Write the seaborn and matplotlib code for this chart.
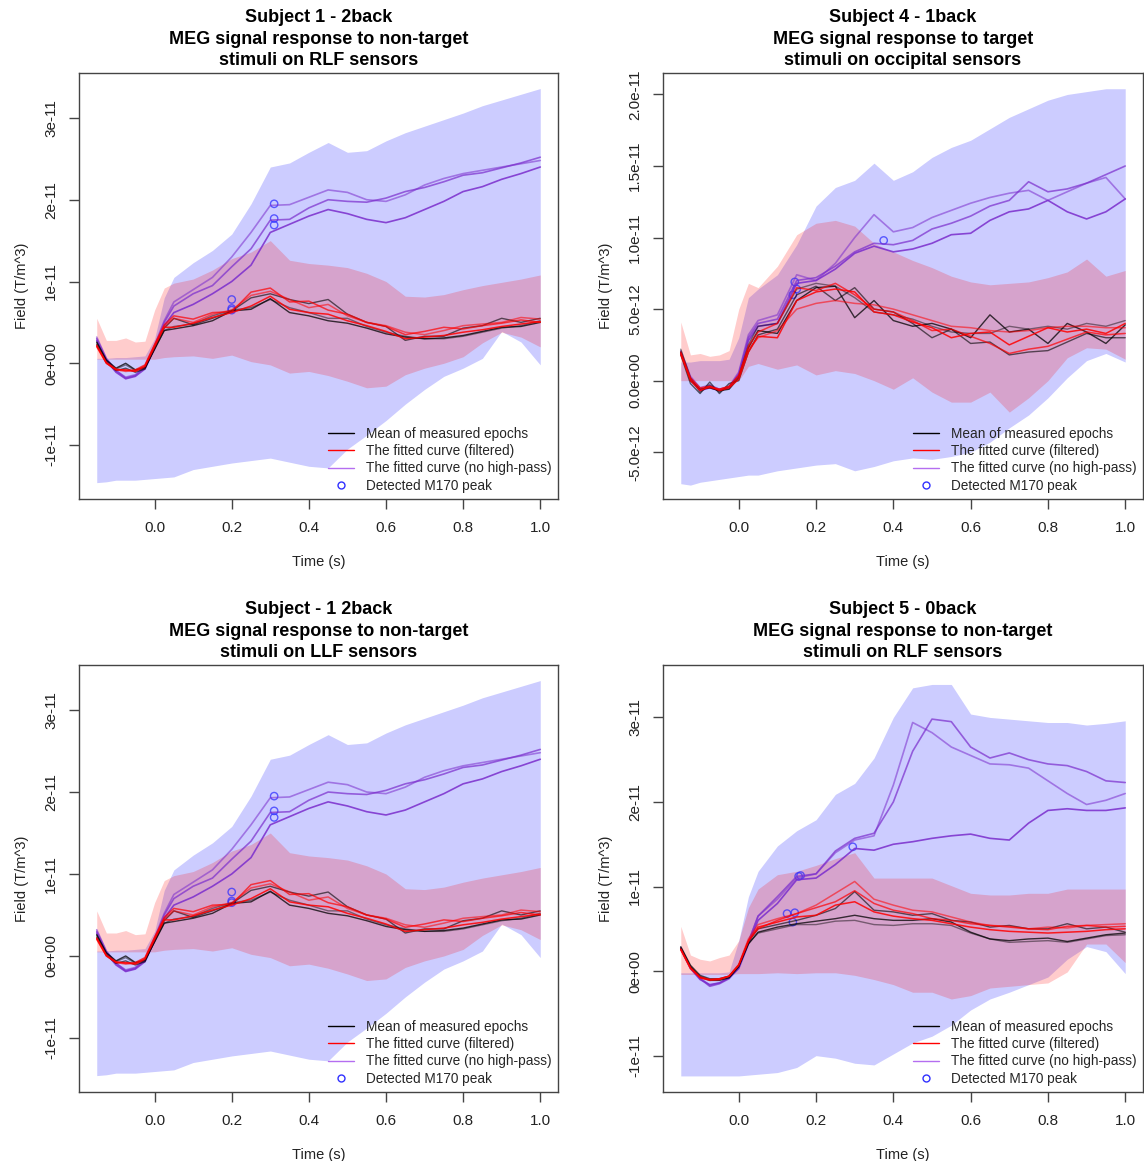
import matplotlib
matplotlib.use("Agg")
import matplotlib.pyplot as plt
from matplotlib.lines import Line2D
import numpy as np
import pandas as pd
import seaborn as sns

sns.set_theme(style="white")
plt.rcParams['font.family'] = ['Liberation Sans', 'DejaVu Sans']

# All field values below are in units of 1e-12 T/m^3
SCALE = 1e-12

# Time axis (s)
T = [-0.15, -0.125, -0.1, -0.075, -0.05, -0.025, 0.0, 0.025, 0.05,
     0.1, 0.15, 0.2, 0.25, 0.3, 0.35, 0.4, 0.45, 0.5, 0.55, 0.6,
     0.65, 0.7, 0.75, 0.8, 0.85, 0.9, 0.95, 1.0]

# ---- Subject 1 - 2back (RLF / LLF sensors) ----
s1_blue_hi = [0.6, 0.6, 0.7, 0.7, 0.8, 0.9, 3.0, 8.0, 10.5,
              12.3, 13.8, 15.8, 19.5, 24.0, 24.5, 25.8, 27.0, 25.8, 26.0, 27.2,
              28.2, 29.0, 29.8, 30.6, 31.5, 32.2, 32.9, 33.6]
s1_blue_lo = [-14.6, -14.5, -14.3, -14.3, -14.3, -14.2, -14.1, -14.0, -13.9,
              -13.0, -12.6, -12.2, -11.9, -11.6, -12.1, -12.6, -12.8, -10.5, -8.8, -7.0,
              -5.0, -3.2, -1.6, -0.6, 0.6, 3.9, 2.6, -0.2]
s1_red_hi = [5.5, 2.8, 2.8, 3.1, 2.6, 2.7, 6.5, 9.2, 9.8,
             10.3, 11.4, 12.8, 13.6, 15.0, 12.6, 12.2, 12.0, 11.7, 11.0, 10.0,
             8.2, 8.1, 8.4, 9.0, 9.5, 9.9, 10.3, 10.8]
s1_red_lo = [0.5, 0.5, 0.5, 0.5, 0.5, 0.5, 0.5, 0.7, 0.8,
             0.9, 0.6, 1.0, 0.2, -0.2, -1.2, -1.0, -1.5, -2.2, -3.0, -2.8,
             -1.4, -0.6, 0.0, 0.8, 2.5, 3.8, 3.2, 2.0]
s1_purple_a = [3.2, 0.6, -0.9, -1.7, -1.4, -0.4, 2.2, 5.2, 7.5,
               9.0, 10.5, 13.0, 16.0, 19.3, 19.4, 20.3, 21.2, 20.9, 20.0, 19.8,
               20.6, 21.8, 22.6, 23.2, 23.6, 24.0, 24.4, 24.8]
s1_purple_b = [3.0, 0.5, -0.9, -1.8, -1.5, -0.5, 2.0, 5.0, 7.0,
               8.5, 9.5, 11.8, 14.0, 17.5, 17.6, 19.0, 20.0, 19.8, 19.7, 20.2,
               21.0, 21.5, 22.2, 23.0, 23.3, 23.9, 24.5, 25.2]
s1_purple_c = [2.8, 0.3, -1.1, -1.9, -1.6, -0.7, 1.8, 4.6, 6.2,
               7.2, 8.5, 10.0, 12.0, 16.0, 17.0, 18.0, 18.8, 18.3, 17.6, 17.2,
               17.8, 18.8, 19.8, 21.0, 21.6, 22.5, 23.2, 24.0]
s1_mean_a = [2.5, 0.3, -0.7, -0.2, -0.9, -0.6, 1.8, 4.0, 4.5,
             4.8, 5.8, 6.5, 6.8, 7.8, 6.8, 6.2, 5.5, 5.5, 4.5, 3.8,
             3.3, 3.0, 3.0, 3.3, 3.8, 4.3, 4.6, 5.2]
s1_mean_b = [2.3, 0.1, -0.9, -0.6, -1.1, -0.7, 1.9, 4.3, 5.5,
             4.7, 5.5, 6.4, 8.0, 8.5, 7.8, 7.3, 7.8, 6.0, 5.0, 4.5,
             2.8, 3.3, 3.3, 4.3, 4.6, 5.5, 5.0, 5.5]
s1_mean_c = [2.6, 0.4, -0.6, 0.0, -0.8, -0.5, 1.7, 4.0, 4.2,
             4.6, 5.2, 6.4, 6.6, 7.9, 6.2, 5.8, 5.2, 4.9, 4.3, 3.6,
             3.2, 3.0, 3.1, 3.4, 3.9, 4.4, 4.5, 5.0]
s1_fit_a = [2.0, 0.0, -0.8, -1.0, -0.9, -0.3, 2.2, 4.5, 5.5,
            5.0, 6.0, 6.5, 8.3, 8.8, 7.8, 6.8, 7.2, 5.8, 5.0, 4.6,
            3.8, 3.5, 4.0, 4.6, 4.8, 5.0, 5.6, 5.4]
s1_fit_b = [2.2, 0.1, -0.7, -0.9, -0.8, -0.2, 2.3, 4.7, 5.8,
            5.4, 6.2, 6.3, 8.7, 9.2, 7.5, 7.6, 6.5, 6.0, 5.0, 4.5,
            3.5, 3.9, 4.4, 4.2, 4.6, 4.9, 5.3, 5.0]
s1_fit_c = [2.1, 0.0, -0.8, -0.8, -1.0, -0.4, 2.0, 4.4, 4.4,
            4.9, 5.6, 6.2, 7.0, 8.2, 6.6, 6.2, 6.0, 5.2, 4.6, 3.9,
            3.0, 3.2, 3.4, 3.8, 4.1, 4.5, 4.8, 5.1]
s1_peak_t = [0.31, 0.31, 0.31, 0.2, 0.2, 0.2]
s1_peak_v = [19.5, 17.7, 16.9, 7.8, 6.7, 6.5]

# ---- Subject 4 - 1back (occipital sensors) ----
s4_blue_hi = [1.3, 1.3, 1.4, 1.4, 1.4, 1.5, 3.0, 5.8, 6.4,
              7.4, 9.5, 12.2, 13.5, 14.0, 15.2, 14.0, 14.6, 15.6, 16.3, 16.8,
              17.6, 18.4, 19.0, 19.6, 20.0, 20.2, 20.4, 20.4]
s4_blue_lo = [-7.2, -7.3, -7.1, -7.0, -6.9, -6.8, -6.7, -6.6, -6.6,
              -6.3, -6.1, -5.9, -5.8, -6.3, -6.0, -5.6, -5.4, -5.5, -5.3, -5.0,
              -4.3, -3.3, -2.4, -1.2, 0.2, 1.4, 1.9, 1.3]
s4_red_hi = [4.1, 1.8, 1.9, 1.7, 1.8, 2.1, 5.0, 6.8, 6.5,
             8.0, 10.2, 11.0, 11.2, 10.8, 9.6, 9.0, 8.4, 7.9, 7.3, 6.9,
             6.7, 6.8, 6.9, 7.2, 7.6, 8.5, 7.3, 7.7]
s4_red_lo = [0.0, 0.0, 0.0, 0.0, 0.0, 0.0, 0.0, 1.0, 1.2,
             0.8, 1.1, 0.4, 0.7, 0.5, 0.0, -0.6, 0.2, -0.8, -1.5, -1.5,
             -0.8, -2.2, -1.2, 0.0, 1.6, 2.3, 2.2, 1.5]
s4_purple_a = [2.1, 0.3, -0.5, -0.3, -0.6, -0.4, 0.6, 3.2, 4.2,
               4.6, 7.4, 7.0, 8.2, 10.0, 11.6, 10.4, 10.7, 11.4, 11.9, 12.4,
               12.8, 13.1, 13.3, 12.6, 13.2, 13.8, 14.2, 12.7]
s4_purple_b = [2.0, 0.2, -0.6, -0.4, -0.6, -0.5, 0.5, 3.0, 4.0,
               4.3, 7.0, 7.2, 8.0, 9.0, 9.6, 9.5, 9.8, 10.6, 11.0, 11.5,
               12.2, 12.6, 13.9, 13.2, 13.4, 13.8, 14.4, 15.0]
s4_purple_c = [1.9, 0.1, -0.7, -0.5, -0.7, -0.5, 0.4, 2.8, 3.8,
               4.0, 6.8, 7.0, 7.8, 8.9, 9.4, 9.0, 9.2, 9.6, 10.2, 10.3,
               11.2, 11.8, 12.0, 12.6, 11.8, 11.3, 11.8, 12.7]
s4_mean_a = [2.2, 0.2, -0.8, -0.3, -0.8, -0.4, 0.3, 2.5, 3.8,
             4.0, 6.4, 6.8, 6.6, 5.8, 4.8, 4.6, 4.3, 3.8, 3.4, 3.3,
             3.3, 3.8, 3.6, 3.8, 3.6, 4.0, 3.8, 4.2]
s4_mean_b = [1.8, -0.2, -0.9, -0.1, -0.9, -0.2, 0.0, 2.0, 3.2,
             3.6, 6.0, 6.6, 5.6, 6.5, 5.0, 4.8, 4.0, 3.0, 3.6, 2.6,
             2.7, 1.8, 2.0, 2.1, 2.7, 3.3, 3.0, 3.0]
s4_mean_c = [2.0, 0.0, -0.6, -0.5, -0.7, -0.6, 0.2, 2.3, 3.5,
             3.3, 5.6, 6.5, 6.6, 4.4, 5.6, 4.2, 3.8, 4.0, 3.6, 3.0,
             4.6, 3.4, 3.6, 2.6, 4.0, 3.4, 2.6, 3.9]
s4_fit_a = [1.8, 0.1, -0.6, -0.5, -0.6, -0.4, 0.4, 2.2, 3.0,
            3.5, 5.0, 5.4, 5.6, 5.4, 5.3, 5.0, 4.6, 4.2, 3.8, 3.7,
            3.5, 3.4, 3.5, 3.7, 3.8, 3.8, 3.7, 3.7]
s4_fit_b = [2.0, 0.2, -0.5, -0.4, -0.6, -0.4, 0.3, 2.4, 3.4,
            4.0, 6.5, 6.3, 6.8, 6.0, 5.0, 4.8, 4.2, 3.5, 3.6, 3.1,
            2.6, 1.9, 2.2, 2.4, 2.9, 3.4, 3.2, 3.3]
s4_fit_c = [1.9, 0.0, -0.7, -0.4, -0.7, -0.5, 0.1, 2.0, 3.1,
            3.0, 5.6, 6.2, 6.4, 6.2, 4.8, 4.6, 4.1, 3.7, 3.0, 3.3,
            3.4, 2.5, 3.1, 3.7, 3.4, 3.6, 3.3, 4.0]
s4_peak_t = [0.375, 0.14, 0.145, 0.15]
s4_peak_v = [9.8, 6.0, 6.9, 6.4]

# ---- Subject 5 - 0back (RLF sensors) ----
s5_blue_hi = [-0.2, -0.2, -0.2, -0.2, -0.2, -0.1, 3.6, 8.8, 11.8,
              14.8, 16.6, 17.9, 20.9, 22.2, 25.2, 30.0, 33.5, 33.9, 33.9, 30.4,
              30.0, 29.8, 29.6, 29.4, 29.4, 29.1, 29.3, 29.6]
s5_blue_lo = [-12.4, -12.4, -12.4, -12.4, -12.4, -12.4, -12.4, -12.3, -12.2,
              -12.0, -11.4, -10.0, -10.3, -10.9, -11.1, -9.8, -8.5, -7.7, -6.4, -4.6,
              -3.3, -2.5, -1.6, -0.7, 1.4, 2.9, 2.3, -0.3]
s5_red_hi = [5.3, 1.9, 1.4, 1.2, 1.6, 1.9, 3.6, 7.5, 9.7,
             11.4, 11.8, 12.5, 13.3, 14.0, 11.0, 11.0, 11.0, 11.0, 10.1, 9.2,
             9.0, 9.0, 9.2, 9.2, 9.7, 9.7, 9.7, 9.7]
s5_red_lo = [-0.4, -0.4, -0.4, -0.4, -0.4, -0.4, -0.3, -0.3, -0.3,
             -0.2, -0.3, -0.2, -0.2, -0.5, -1.0, -1.6, -2.5, -2.5, -3.3, -2.9,
             -2.0, -1.8, -1.6, -1.4, -0.1, 3.2, 3.2, 1.0]
s5_purple_a = [2.8, 0.5, -0.8, -1.7, -1.4, -0.8, 0.5, 3.5, 6.5,
               8.5, 11.0, 11.5, 14.0, 15.5, 16.0, 22.0, 29.4, 28.2, 26.5, 25.5,
               24.5, 24.4, 24.0, 22.5, 21.0, 19.7, 20.2, 21.0]
s5_purple_b = [2.7, 0.4, -0.9, -1.8, -1.5, -0.9, 0.4, 3.4, 6.5,
               8.8, 11.2, 11.5, 14.2, 15.7, 16.3, 20.0, 26.0, 29.8, 29.5, 26.5,
               25.2, 25.8, 25.0, 24.5, 24.3, 23.6, 22.5, 22.3]
s5_purple_c = [2.6, 0.3, -1.0, -1.6, -1.4, -0.8, 0.3, 3.2, 6.0,
               8.0, 10.8, 11.0, 12.6, 14.5, 14.3, 15.0, 15.3, 15.7, 16.0, 16.2,
               15.7, 15.5, 17.5, 19.0, 19.2, 19.0, 19.0, 19.3]
s5_mean_a = [2.8, 0.6, -0.6, -1.0, -1.0, -0.7, 0.6, 3.3, 4.5,
             5.0, 5.5, 5.5, 5.9, 6.0, 5.5, 5.4, 5.6, 5.6, 5.4, 4.5,
             3.8, 3.4, 3.5, 3.6, 3.4, 3.8, 4.2, 4.3]
s5_mean_b = [2.9, 0.7, -0.5, -0.9, -0.9, -0.6, 0.7, 3.5, 5.0,
             5.5, 6.0, 6.6, 7.4, 9.4, 7.2, 7.0, 6.6, 6.8, 6.0, 5.8,
             5.2, 5.4, 5.0, 5.0, 5.6, 5.0, 5.2, 4.6]
s5_mean_c = [2.7, 0.5, -0.7, -1.1, -1.1, -0.8, 0.5, 3.2, 4.6,
             5.2, 5.6, 5.9, 6.2, 6.6, 6.2, 6.0, 6.0, 6.2, 5.8, 4.6,
             3.8, 3.6, 3.8, 3.9, 3.5, 3.9, 4.3, 4.5]
s5_fit_a = [2.6, 0.4, -0.8, -1.0, -1.0, -0.6, 0.8, 3.8, 5.5,
            6.2, 6.8, 7.8, 9.2, 10.6, 8.5, 7.8, 7.2, 7.0, 6.4, 5.8,
            5.4, 5.3, 5.0, 5.2, 5.1, 5.4, 5.5, 5.6]
s5_fit_b = [2.5, 0.3, -0.8, -1.1, -1.0, -0.6, 0.7, 3.6, 5.0,
            6.0, 6.8, 7.5, 8.2, 9.5, 8.0, 7.2, 6.8, 6.2, 6.0, 5.6,
            5.4, 5.2, 5.0, 4.9, 5.3, 5.4, 5.2, 5.3]
s5_fit_c = [2.6, 0.4, -0.7, -1.0, -0.9, -0.6, 0.7, 3.5, 5.2,
            5.8, 6.4, 6.6, 7.8, 8.2, 7.0, 6.5, 6.2, 6.0, 5.6, 5.2,
            4.9, 4.7, 4.6, 4.5, 4.6, 4.7, 4.9, 5.0]
s5_peak_t = [0.16, 0.155, 0.125, 0.14, 0.145, 0.295]
s5_peak_v = [11.3, 11.2, 6.8, 5.8, 6.9, 14.7]

# Tick labels
ticks_a = [-10, 0, 10, 20, 30]
labels_a = ["-1e-11", "0e+00", "1e-11", "2e-11", "3e-11"]
ticks_b = [-5, 0, 5, 10, 15, 20]
labels_b = ["-5.0e-12", "0.0e+00", "5.0e-12", "1.0e-11", "1.5e-11", "2.0e-11"]
x_ticks = [0.0, 0.2, 0.4, 0.6, 0.8, 1.0]
x_labels = ["0.0", "0.2", "0.4", "0.6", "0.8", "1.0"]

legend_labels = ["Mean of measured epochs", "The fitted curve (filtered)",
                 "The fitted curve (no high-pass)", "Detected M170 peak"]


def subject(blue_hi, blue_lo, red_hi, red_lo, purples, means, fits, pk_t, pk_v):
    return dict(blue_hi=blue_hi, blue_lo=blue_lo, red_hi=red_hi, red_lo=red_lo,
                purples=purples, means=means, fits=fits, pk_t=pk_t, pk_v=pk_v)


S1 = subject(s1_blue_hi, s1_blue_lo, s1_red_hi, s1_red_lo,
             [s1_purple_a, s1_purple_b, s1_purple_c],
             [s1_mean_a, s1_mean_b, s1_mean_c],
             [s1_fit_a, s1_fit_b, s1_fit_c], s1_peak_t, s1_peak_v)
S4 = subject(s4_blue_hi, s4_blue_lo, s4_red_hi, s4_red_lo,
             [s4_purple_a, s4_purple_b, s4_purple_c],
             [s4_mean_a, s4_mean_b, s4_mean_c],
             [s4_fit_a, s4_fit_b, s4_fit_c], s4_peak_t, s4_peak_v)
S5 = subject(s5_blue_hi, s5_blue_lo, s5_red_hi, s5_red_lo,
             [s5_purple_a, s5_purple_b, s5_purple_c],
             [s5_mean_a, s5_mean_b, s5_mean_c],
             [s5_fit_a, s5_fit_b, s5_fit_c], s5_peak_t, s5_peak_v)

W, H = 1144, 1161
panels = [
    dict(rect=(79, 73, 558, 499), data=S1, ylim=(-16.6, 35.5), ticks=ticks_a, labels=labels_a,
         title="Subject 1 - 2back\nMEG signal response to non-target\nstimuli on RLF sensors"),
    dict(rect=(663, 73, 1143, 499), data=S4, ylim=(-8.27, 21.5), ticks=ticks_b, labels=labels_b,
         title="Subject 4 - 1back\nMEG signal response to target\nstimuli on occipital sensors"),
    dict(rect=(79, 665, 558, 1092), data=S1, ylim=(-16.6, 35.5), ticks=ticks_a, labels=labels_a,
         title="Subject - 1 2back\nMEG signal response to non-target\nstimuli on LLF sensors"),
    dict(rect=(663, 665, 1143, 1092), data=S5, ylim=(-14.3, 36.2), ticks=ticks_a, labels=labels_a,
         title="Subject 5 - 0back\nMEG signal response to non-target\nstimuli on RLF sensors"),
]

BLUE_BAND = (0.0, 0.0, 1.0, 0.2)
RED_BAND = (1.0, 0.0, 0.0, 0.2)
PURPLE = "#7a2ccc"
PURPLE_LEG = "#b46ef0"
FRAME = "#444444"
TEXT = "#222222"

fig = plt.figure(figsize=(W / 100, H / 100), dpi=100)
t = np.array(T)

for p in panels:
    x0, y0, x1, y1 = p["rect"]
    ax = fig.add_axes([x0 / W, 1 - y1 / H, (x1 - x0) / W, (y1 - y0) / H])
    d = p["data"]

    ax.fill_between(t, np.array(d["blue_lo"]) * SCALE, np.array(d["blue_hi"]) * SCALE,
                    color=BLUE_BAND, linewidth=0)
    ax.fill_between(t, np.array(d["red_lo"]) * SCALE, np.array(d["red_hi"]) * SCALE,
                    color=RED_BAND, linewidth=0)

    for i, v in enumerate(d["purples"]):
        df = pd.DataFrame({"t": T, "v": np.array(v) * SCALE})
        sns.lineplot(data=df, x="t", y="v", ax=ax, color=PURPLE, alpha=0.55 + 0.15 * i,
                     linewidth=1.2, estimator=None, sort=False, legend=False)
    for i, v in enumerate(d["means"]):
        df = pd.DataFrame({"t": T, "v": np.array(v) * SCALE})
        sns.lineplot(data=df, x="t", y="v", ax=ax, color="black", alpha=0.45 + 0.15 * i,
                     linewidth=1.0, estimator=None, sort=False, legend=False)
    for i, v in enumerate(d["fits"]):
        df = pd.DataFrame({"t": T, "v": np.array(v) * SCALE})
        sns.lineplot(data=df, x="t", y="v", ax=ax, color="#ff0000", alpha=0.55 + 0.15 * i,
                     linewidth=1.1, estimator=None, sort=False, legend=False)

    pk = pd.DataFrame({"t": d["pk_t"], "v": np.array(d["pk_v"]) * SCALE})
    sns.scatterplot(data=pk, x="t", y="v", ax=ax, marker="o", s=28, facecolors="none",
                    edgecolor="#3030ff", linewidth=1.0, alpha=0.75, legend=False)

    ax.set_xlim(-0.196, 1.046)
    ax.set_ylim(p["ylim"][0] * SCALE, p["ylim"][1] * SCALE)
    ax.set_xticks(x_ticks)
    ax.set_xticklabels(x_labels, fontsize=11)
    ax.set_yticks([v * SCALE for v in p["ticks"]])
    ax.set_yticklabels(p["labels"], fontsize=11, rotation=90, va="center")
    ax.tick_params(axis="both", direction="out", length=7, width=1, color=FRAME,
                   labelcolor=TEXT, bottom=True, left=True)
    ax.tick_params(axis="x", pad=9)
    ax.tick_params(axis="y", pad=8)
    for s in ax.spines.values():
        s.set_color(FRAME)
        s.set_linewidth(1.0)
    ax.set_xlabel("Time (s)", fontsize=10.5, labelpad=14, color=TEXT)
    ax.set_ylabel("Field (T/m^3)", fontsize=10.5, labelpad=11, color=TEXT)
    ax.set_title(p["title"], fontsize=13, fontweight="bold", pad=6, linespacing=1.32,
                 color="black")

    handles = [Line2D([], [], color="black", lw=1.0),
               Line2D([], [], color="#ff0000", lw=1.0),
               Line2D([], [], color=PURPLE_LEG, lw=1.0),
               Line2D([], [], color="#3030ff", lw=0, marker="o", markersize=5,
                      markerfacecolor="none", markeredgewidth=1.0)]
    ax.legend(handles, legend_labels, loc="lower right", frameon=False, fontsize=9.8,
              handlelength=1.9, handletextpad=0.9, labelspacing=0.25,
              borderaxespad=0.05)

fig.savefig("out.png", dpi=100)
